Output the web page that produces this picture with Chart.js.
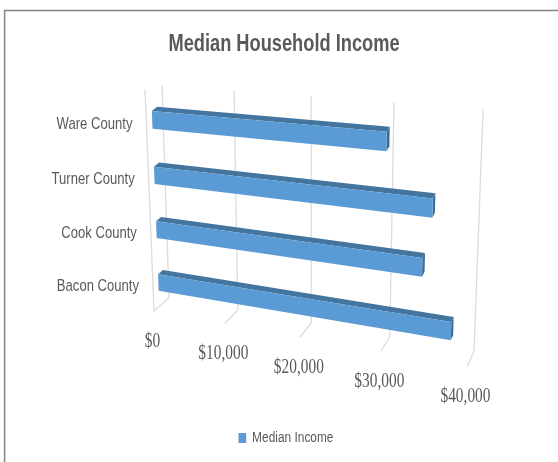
<!DOCTYPE html>
<html>
<head>
<meta charset="utf-8">
<title>Median Household Income</title>
<script src="https://cdn.jsdelivr.net/npm/chart.js@4"></script>
<style>
  html, body { margin: 0; padding: 0; background: #fff; }
  #wrap { position: absolute; left: 0; top: 0; width: 558px; height: 462px; }
</style>
</head>
<body>
<div id="wrap"><canvas id="myChart"></canvas></div>
<script>
const counties = ["Ware County", "Turner County", "Cook County", "Bacon County"];
const incomes = [29900, 35300, 34300, 37800];
const incomeTicks = ["$0", "$10,000", "$20,000", "$30,000", "$40,000"];
const seriesName = "Median Income";

const sans = "'Liberation Sans', sans-serif";
const grey = "#595959";

// corners of the rear wall and of the front edge of the floor: TL, TR, BR, BL
const rearWall = quadMap([161.9, 83], [483.2, 106.5], [473.9, 353.5], [169.1, 300]);
const frontEdge = quadMap([145.3, 96], [476.2, 123.5], [466.9, 369], [154.1, 313]);
// the lines stop a little short of the category bands
const gridTop = 0.01;
const gridBottom = 0.99;
const sideWallTop = -0.028;
// how deep the bars sit between rear wall (0) and front edge (1)
const barBack = 0.33;
const barFront = 0.65;

function quadMap(p0, p1, p2, p3) {
  const dx1 = p1[0] - p2[0], dx2 = p3[0] - p2[0], sx = p0[0] - p1[0] + p2[0] - p3[0];
  const dy1 = p1[1] - p2[1], dy2 = p3[1] - p2[1], sy = p0[1] - p1[1] + p2[1] - p3[1];
  const den = dx1 * dy2 - dx2 * dy1;
  const g = (sx * dy2 - dx2 * sy) / den;
  const h = (dx1 * sy - sx * dy1) / den;
  const a = p1[0] - p0[0] + g * p1[0], b = p3[0] - p0[0] + h * p3[0];
  const d = p1[1] - p0[1] + g * p1[1], e = p3[1] - p0[1] + h * p3[1];
  return (u, v) => {
    const q = g * u + h * v + 1;
    return [(a * u + b * v + p0[0]) / q, (d * u + e * v + p0[1]) / q];
  };
}

// u, v are fractions of the chart area, depth goes from the wall to the front
function project(u, v, depth) {
  const r = rearWall(u, v), f = frontEdge(u, v);
  return [r[0] + (f[0] - r[0]) * depth, r[1] + (f[1] - r[1]) * depth];
}

function poly(ctx, pts, color) {
  ctx.fillStyle = color;
  ctx.beginPath();
  pts.forEach((p, i) => i ? ctx.lineTo(p[0], p[1]) : ctx.moveTo(p[0], p[1]));
  ctx.closePath();
  ctx.fill();
}

function line(ctx, a, b) {
  ctx.beginPath();
  ctx.moveTo(a[0], a[1]);
  ctx.lineTo(b[0], b[1]);
  ctx.stroke();
}

// there is no narrow face installed, so squeeze the text sideways
function squeezeBox(box, sx, shift) {
  const draw = box.draw;
  box.draw = function (area) {
    const c = this.ctx, mid = (this.left + this.right) / 2;
    c.save();
    c.translate(mid + shift, 0);
    c.scale(sx, 1);
    c.translate(-mid, 0);
    draw.call(this, area);
    c.restore();
  };
}

function squeezedText(ctx, text, x, y, sx) {
  ctx.save();
  ctx.translate(x, y);
  ctx.scale(sx, 1);
  ctx.fillText(text, 0, 0);
  ctx.restore();
}

const perspective = {
  id: "perspective",
  beforeDraw(chart) {
    if (!chart.$squeezed) {
      squeezeBox(chart.titleBlock, 0.76, 0);
      squeezeBox(chart.legend, 0.85, 2);
      chart.$squeezed = true;
    }
    const ctx = chart.ctx;
    // frame, only top and left are visible
    ctx.save();
    ctx.strokeStyle = "#858585";
    ctx.lineWidth = 1.5;
    ctx.beginPath();
    ctx.moveTo(4.6, 462);
    ctx.lineTo(4.6, 10.6);
    ctx.lineTo(558, 10.6);
    ctx.stroke();
    ctx.restore();
  },
  beforeDatasetsDraw(chart) {
    const ctx = chart.ctx, area = chart.chartArea, xs = chart.scales.x, ys = chart.scales.y;
    ctx.save();

    // gridlines up the wall and forward over the floor
    ctx.strokeStyle = "#dcdcdc";
    ctx.lineWidth = 1.3;
    xs.ticks.forEach((t) => {
      const u = (xs.getPixelForValue(t.value) - area.left) / area.width;
      line(ctx, project(u, gridTop, 0), project(u, gridBottom, 0));
      line(ctx, project(u, gridBottom, 0), project(u, gridBottom, 1));
    });
    line(ctx, project(0, sideWallTop, 1), project(0, gridBottom, 1));

    // bars: top, end and front faces
    const fill = chart.data.datasets[0].backgroundColor;
    chart.getDatasetMeta(0).data.forEach((bar) => {
      const u = (bar.x - area.left) / area.width;
      const u0 = (bar.base - area.left) / area.width;
      const v0 = (bar.y - bar.height / 2 - area.top) / area.height;
      const v1 = (bar.y + bar.height / 2 - area.top) / area.height;
      poly(ctx, [project(u0, v0, barBack), project(u, v0, barBack), project(u, v0, barFront), project(u0, v0, barFront)], "#44759f");
      poly(ctx, [project(u, v0, barBack), project(u, v1, barBack), project(u, v1, barFront), project(u, v0, barFront)], "#3c6c95");
      poly(ctx, [project(u0, v0, barFront), project(u, v0, barFront), project(u, v1, barFront), project(u0, v1, barFront)], fill);
    });

    // category labels along the front of the left wall
    ctx.fillStyle = grey;
    ctx.font = "17px " + sans;
    ctx.textAlign = "right";
    ctx.textBaseline = "middle";
    ys.ticks.forEach((t, i) => {
      const v = (ys.getPixelForTick(i) - area.top) / area.height;
      const p = project(0, v, 1);
      squeezedText(ctx, counties[t.value], p[0] - 14, p[1] - 0.5, 0.77);
    });

    // value labels under the floor, a tall condensed serif
    ctx.font = "20px 'Liberation Serif', serif";
    ctx.textAlign = "center";
    xs.ticks.forEach((t, i) => {
      const u = (xs.getPixelForValue(t.value) - area.left) / area.width;
      const p = project(u, gridBottom, 1);
      squeezedText(ctx, incomeTicks[i], p[0] - 1.5, p[1] + 30.5, 0.77);
    });

    ctx.restore();
    return false; // the bars are already painted
  }
};

const ctx = document.getElementById("myChart");

new Chart(ctx, {
  type: "bar",
  data: {
    labels: counties,
    datasets: [{
      label: seriesName,
      data: incomes,
      backgroundColor: "#5b9bd5",
      borderWidth: 0,
      categoryPercentage: 1,
      barPercentage: 0.315
    }]
  },
  options: {
    indexAxis: "y",
    responsive: true,
    maintainAspectRatio: false,
    animation: false,
    layout: { padding: { left: 10, bottom: 7 } },
    scales: {
      x: {
        min: 0,
        max: 40000,
        ticks: { stepSize: 10000, display: false },
        grid: { display: false },
        border: { display: false }
      },
      y: {
        ticks: { display: false },
        grid: { display: false },
        border: { display: false }
      }
    },
    plugins: {
      title: {
        display: true,
        text: "Median Household Income",
        color: grey,
        font: { family: sans, size: 24, weight: "bold" },
        padding: { top: 30, bottom: 28 }
      },
      legend: {
        position: "bottom",
        labels: { boxWidth: 9, boxHeight: 10, color: grey, font: { family: sans, size: 14 } }
      },
      tooltip: { enabled: false }
    }
  },
  plugins: [perspective]
});
</script>
</body>
</html>
